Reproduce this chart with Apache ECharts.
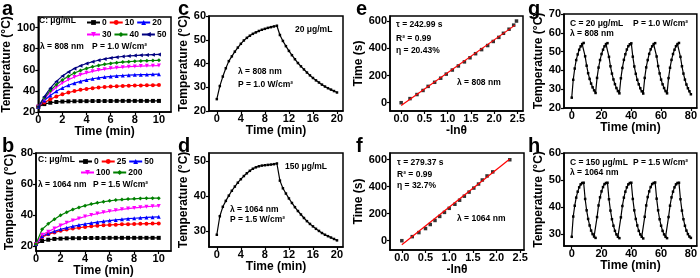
<!DOCTYPE html>
<html>
<head>
<meta charset="utf-8">
<script src="https://cdn.jsdelivr.net/npm/echarts@6/dist/echarts.min.js"></script>
<style>
html,body{margin:0;padding:0;background:#fff;}
#chart{width:700px;height:278px;}
</style>
</head>
<body>
<div id="chart"></div>
<script>
// ---- data ----
// a: 808 nm, 1.0 W/cm2, concentration series
var aTime = [0,0.5,1,1.5,2,2.5,3,3.5,4,4.5,5,5.5,6,6.5,7,7.5,8,8.5,9,9.5,10];
var aNames = ['0','10','20','30','40','50'];
var a0  = [25,27.5,28.8,29.5,29.9,30.1,30.2,30.3,30.3,30.4,30.4,30.4,30.4,30.5,30.5,30.5,30.5,30.5,30.5,30.5,30.5];
var a10 = [25,28.9,32.1,34.7,36.8,38.5,39.8,41,41.9,42.6,43.2,43.7,44.1,44.4,44.7,44.9,45.1,45.2,45.3,45.4,45.5];
var a20 = [25,30.9,35.7,39.6,42.7,45.3,47.3,49,50.4,51.5,52.4,53.1,53.7,54.2,54.6,54.9,55.2,55.4,55.5,55.7,55.8];
var a30 = [25,32.4,38.5,43.4,47.4,50.6,53.2,55.4,57.1,58.5,59.7,60.6,61.4,62,62.5,62.9,63.2,63.5,63.7,63.8,64];
var a40 = [25,33.4,40.2,45.8,50.3,53.9,56.9,59.3,61.3,62.9,64.1,65.2,66,66.7,67.3,67.7,68.1,68.4,68.6,68.8,69];
var a50 = [25,34.5,42.6,49,54,58,61.2,63.8,65.9,67.6,69,70.2,71.2,71.9,72.6,73.1,73.5,73.8,74.1,74.3,74.5];

// b: 1064 nm, 1.5 W/cm2
var bNames = ['0','25','50','100','200'];
var b0   = [21.5,23.5,24.3,24.8,25,25.2,25.3,25.3,25.4,25.4,25.4,25.4,25.5,25.5,25.5,25.5,25.5,25.5,25.5,25.5,25.5];
var b25  = [21.5,26,27.8,29,30,30.8,31.5,32,32.5,32.9,33.3,33.6,33.8,34,34.2,34.3,34.4,34.5,34.6,34.7,34.8];
var b50  = [21.5,26.5,28.3,29.7,31,32,32.9,33.7,34.4,35,35.6,36.1,36.6,37,37.4,37.8,38.1,38.4,38.6,38.8,39];
var b100 = [21.5,27.5,29.5,31.5,33.5,35.2,36.7,38,39.2,40.2,41.1,41.9,42.6,43.2,43.8,44.3,44.7,45.1,45.5,45.8,46];
var b200 = [21.5,31,34.5,37.5,40,42,43.7,45,46.2,47.2,48,48.7,49.3,49.8,50.1,50.4,50.6,50.8,50.9,51,51];

// c, d: heating / cooling
var cTime = [0,0.5,1,1.5,2,2.5,3,3.5,4,4.5,5,5.5,6,6.5,7,7.5,8,8.5,9,9.5,10,
             10.5,11,11.5,12,12.5,13,13.5,14,14.5,15,15.5,16,16.5,17,17.5,18,18.5,19,19.5,20];
var cTemp = [25,30.5,34.5,38,41,43,45,46.7,48.3,49.7,50.8,51.7,52.5,53.1,53.7,54.2,54.6,55,55.3,55.6,55.9,
             52,49.5,47.3,45.3,43.5,41.8,40.2,38.8,37.5,36.2,35,33.9,32.9,32,31.1,30.3,29.6,29,28.4,27.8];
var dTemp = [29,34.3,37,38.7,40.2,41.6,42.8,43.9,44.9,45.8,46.6,47.3,47.9,48.3,48.6,48.8,48.9,49,49.1,49.2,49.4,
             44.5,42.3,40.8,39.4,38.1,36.9,35.8,34.8,33.8,32.9,32.1,31.4,30.7,30.1,29.5,29,28.6,28.2,27.8,27.4];

// e, f: time vs -ln(theta)
var eLn   = [0,0.19,0.34,0.47,0.58,0.72,0.85,0.97,1.1,1.23,1.36,1.48,1.6,1.73,1.86,1.98,2.1,2.2,2.32,2.42,2.48];
var eTime = [0,30,60,90,120,150,180,210,240,270,300,330,360,390,420,450,480,510,540,570,600];
var eFitX = [0,2.45];
var eFitY = [-20,570];
var fLn   = [0,0.22,0.36,0.5,0.6,0.7,0.8,0.9,1.0,1.12,1.22,1.32,1.42,1.52,1.62,1.7,1.8,1.92,2.28];
var fTime = [0,30,60,90,120,150,180,210,240,270,300,330,360,390,420,450,480,510,600];
var fFitX = [0,2.28];
var fFitY = [-30,605];

// g, h: five on/off cycles
var gTime = [0,1,2,3,4,5,6,7,8,9,10,11,12,13,14,15,16,17,18,19,20,21,22,23,24,25,26,27,28,29,30,31,32,
             33,34,35,36,37,38,39,40,41,42,43,44,45,46,47,48,49,50,51,52,53,54,55,56,57,58,59,60,61,62,63,64,
             65,66,67,68,69,70,71,72,73,74,75,76,77,78,79,80];
var gTemp = [25.5,35,41,45.5,48.5,51,52.8,54,54.6,47.5,42.5,38.5,35.5,33,31,29.4,28,
             36,41.5,45.5,48.7,51,52.8,54,54.5,47.2,42.2,38.3,35.2,32.7,30.6,29,27.8,
             35.8,41.3,45.6,48.6,51.1,52.9,53.9,54.4,47.3,42.1,38.2,35,32.6,30.5,28.9,27.7,
             36,41.6,45.5,48.8,51.2,52.8,54,54.5,47.4,42.3,38.4,35.1,32.6,30.6,29,27.8,
             35.9,41.4,45.6,48.7,51,52.9,54,54.6,47.2,42.2,38.3,35.1,32.5,30.5,28.9,27.3];
var hTemp = [29,36.5,40.5,43.5,45.7,47.3,48.4,48.9,49,43,38.8,35.6,33.2,31.3,30,29.1,28.6,
             36.3,40.6,43.6,45.8,47.4,48.5,48.9,49,42.9,38.7,35.5,33.1,31.2,29.9,29,28.5,
             36.2,40.4,43.5,45.7,47.3,48.4,48.9,49,43,38.8,35.6,33.2,31.2,29.9,29,28.4,
             36.4,40.6,43.7,45.8,47.4,48.5,48.9,49.1,43.1,38.8,35.5,33.1,31.2,29.9,29,28.5,
             36.3,40.5,43.6,45.7,47.3,48.4,48.9,49,42.9,38.7,35.5,33.1,31.3,30,29.1,28.6];

// tick labels
var aXTicks = [0,2,4,6,8,10];
var aYTicks = [20,40,60,80,100];
var bYTicks = [20,40,60,80];
var cXTicks = [0,4,8,12,16,20];
var cYTicks = [20,30,40,50,60];
var dYTicks = [30,40,50];
var eXTicks = [0,0.5,1,1.5,2,2.5];
var eYTicks = [0,200,400,600];
var gXTicks = [0,20,40,60,80];
var gYTicks = [20,30,40,50,60,70];
var hYTicks = [30,40,50,60];

// ---- helpers ----
var FONT = '"Liberation Sans", Arial, sans-serif';
function zip(xs, ys){
	var out = [];
	for (var i = 0; i < xs.length; i++) out.push([xs[i], ys[i]]);
	return out;
}
function grid(l, t, w, h){
	return {left:l, top:t, width:w, height:h, show:true, borderColor:'#000', borderWidth:1.5, backgroundColor:'transparent'};
}
function axis(gi, min, max, ticks, name, gap, isY, fmt){
	return {
		gridIndex: gi, type: 'value', min: min, max: max,
		name: name, nameLocation: 'middle', nameGap: gap,
		nameTextStyle: {fontFamily: FONT, fontWeight: 'bold', fontSize: 12, color: '#000'},
		axisLine: {show: true, onZero: false, lineStyle: {color: '#000', width: 1.5}},
		axisTick: {show: true, customValues: ticks, length: 3, lineStyle: {color: '#000', width: 1.2}},
		axisLabel: {customValues: ticks, margin: isY ? 3 : 2, color: '#000', fontFamily: FONT, fontWeight: 'bold', fontSize: 11,
			formatter: fmt || function(v){ return String(v); }},
		splitLine: {show: false}
	};
}
function line(name, gi, xs, ys, color, symbol, rot){
	return {name: name, type: 'line', xAxisIndex: gi, yAxisIndex: gi, data: zip(xs, ys),
		symbol: symbol, symbolSize: 4, symbolRotate: rot || 0, showSymbol: true,
		lineStyle: {color: color, width: 1.2}, itemStyle: {color: color}, animation: false};
}
function dotted(gi, xs, ys){
	return {type: 'line', xAxisIndex: gi, yAxisIndex: gi, data: zip(xs, ys),
		symbol: 'rect', symbolSize: 2.5, lineStyle: {color: '#000', width: 1.2}, itemStyle: {color: '#000'}, animation: false};
}
function txt(x, y, s, size){
	return {type: 'text', x: x, y: y, silent: true,
		style: {text: s, font: 'bold ' + (size || 8.5) + 'px ' + FONT, fill: '#000', verticalAlign: 'middle', textVerticalAlign: 'middle'}};
}
function legend(names, l, t){
	return {data: names, left: l, top: t, itemWidth: 13, itemHeight: 6, itemGap: 2, padding: 0,
		textStyle: {fontFamily: FONT, fontWeight: 'bold', fontSize: 8.5, color: '#000', padding: [0, 0, 0, -3]},
		formatter: function(n){ return n.slice(1); }, selectedMode: false};
}
function fixed1(v){ return v.toFixed(1); }

var colors = ['#000000','#ff0000','#0000ff','#ff00ff','#008000','#000080'];
var shapes = ['rect','circle','triangle','triangle','diamond','triangle'];
var rots   = [0,0,0,180,0,90];
var aData = [a0,a10,a20,a30,a40,a50];
var bData = [b0,b25,b50,b100,b200];

var series = [];
for (var i = 0; i < aData.length; i++) series.push(line('a' + aNames[i], 0, aTime, aData[i], colors[i], shapes[i], rots[i]));
for (var j = 0; j < bData.length; j++) series.push(line('b' + bNames[j], 1, aTime, bData[j], colors[j], shapes[j], rots[j]));
series.push(dotted(2, cTime, cTemp));
series.push(dotted(3, cTime, dTemp));
series.push({type: 'scatter', xAxisIndex: 4, yAxisIndex: 4, data: zip(eLn, eTime), symbol: 'rect', symbolSize: 3.5, itemStyle: {color: '#000'}, animation: false});
series.push({type: 'line', xAxisIndex: 4, yAxisIndex: 4, data: zip(eFitX, eFitY), symbol: 'none', lineStyle: {color: '#ff0000', width: 1.2}, animation: false});
series.push({type: 'scatter', xAxisIndex: 5, yAxisIndex: 5, data: zip(fLn, fTime), symbol: 'rect', symbolSize: 3.5, itemStyle: {color: '#000'}, animation: false});
series.push({type: 'line', xAxisIndex: 5, yAxisIndex: 5, data: zip(fFitX, fFitY), symbol: 'none', lineStyle: {color: '#ff0000', width: 1.2}, animation: false});
series.push(dotted(6, gTime, gTemp));
series.push(dotted(7, gTime, hTemp));

var chart = echarts.init(document.getElementById('chart'), null, {renderer: 'canvas'});
chart.setOption({
	backgroundColor: '#fff',
	animation: false,
	grid: [
		grid(36, 17, 135, 95),   // a
		grid(36, 153, 135, 99),  // b
		grid(209, 16, 134, 95),  // c
		grid(209, 153, 134, 94), // d
		grid(390, 16, 133, 95),  // e
		grid(390, 153, 134, 97), // f
		grid(564, 14, 133, 94),  // g
		grid(564, 153, 133, 93)  // h
	],
	xAxis: [
		axis(0, 0, 11, aXTicks, 'Time (min)', 14, false),
		axis(1, 0, 11, aXTicks, 'Time (min)', 12, false),
		axis(2, -1.3, 21, cXTicks, 'Time (min)', 14, false),
		axis(3, -1.3, 21, cXTicks, 'Time (min)', 14, false),
		axis(4, -0.24, 2.62, eXTicks, '-ln\u03b8', 14, false, fixed1),
		axis(5, -0.25, 2.58, eXTicks, '-ln\u03b8', 14, false, fixed1),
		axis(6, -5.2, 84, gXTicks, 'Time (min)', 14, false),
		axis(7, -5.2, 84, gXTicks, 'Time (min)', 14, false)
	],
	yAxis: [
		axis(0, 20, 110, aYTicks, 'Temperature (\u00b0C)', 20, true),
		axis(1, 17, 80, bYTicks, 'Temperature (\u00b0C)', 20, true),
		axis(2, 20, 60, cYTicks, 'Temperature (\u00b0C)', 18, true),
		axis(3, 25.5, 52.4, dYTicks, 'Temperature (\u00b0C)', 18, true),
		axis(4, -61, 637, eYTicks, 'Time (s)', 24, true),
		axis(5, -69, 650, eYTicks, 'Time (s)', 24, true),
		axis(6, 20, 70, gYTicks, 'Temperature (\u00b0C)', 18, true),
		axis(7, 25.6, 60, hYTicks, 'Temperature (\u00b0C)', 18, true)
	],
	legend: [
		legend(['a0','a10','a20'], 86, 18),
		legend(['a30','a40','a50'], 86, 30),
		legend(['b0','b25','b50'], 78, 157),
		legend(['b100','b200'], 80, 168)
	],
	graphic: [
		txt(2, 9, 'a', 20), txt(2, 146, 'b', 20), txt(178, 9, 'c', 20), txt(178, 146, 'd', 20),
		txt(356, 9, 'e', 20), txt(356, 146, 'f', 20), txt(528, 9, 'g', 20), txt(528, 146, 'h', 20),
		txt(39, 21, 'C: \u03bcg/mL'), txt(40, 46.7, '\u03bb = 808 nm'), txt(92, 46.7, 'P = 1.0 W/cm\u00b2'),
		txt(38, 160, 'C: \u03bcg/mL'), txt(38, 184.3, '\u03bb = 1064 nm'), txt(93, 184.3, 'P = 1.5 W/cm\u00b2'),
		txt(295, 30, '20 \u03bcg/mL'), txt(238, 71.7, '\u03bb = 808 nm'), txt(238, 85, 'P = 1.0 W/cm\u00b2'),
		txt(285, 166.3, '150 \u03bcg/mL'), txt(230, 209.7, '\u03bb = 1064 nm'), txt(230, 220, 'P = 1.5 W/cm\u00b2'),
		txt(396, 25, '\u03c4 = 242.99 s'), txt(396, 38.3, 'R\u00b2 = 0.99'), txt(396, 50.7, '\u03b7 = 20.43%'), txt(457, 82.3, '\u03bb = 808 nm'),
		txt(397, 163, '\u03c4 = 279.37 s'), txt(397, 174.5, 'R\u00b2 = 0.99'), txt(397, 186, '\u03b7 = 32.7%'), txt(457, 219, '\u03bb = 1064 nm'),
		txt(570, 24, 'C = 20 \u03bcg/mL'), txt(570, 34, '\u03bb = 808 nm'), txt(633, 24, 'P = 1.0 W/cm\u00b2'),
		txt(570, 163, 'C = 150 \u03bcg/mL'), txt(570, 172.5, '\u03bb = 1064 nm'), txt(633, 163, 'P = 1.5 W/cm\u00b2')
	],
	series: series
});
</script>
</body>
</html>
